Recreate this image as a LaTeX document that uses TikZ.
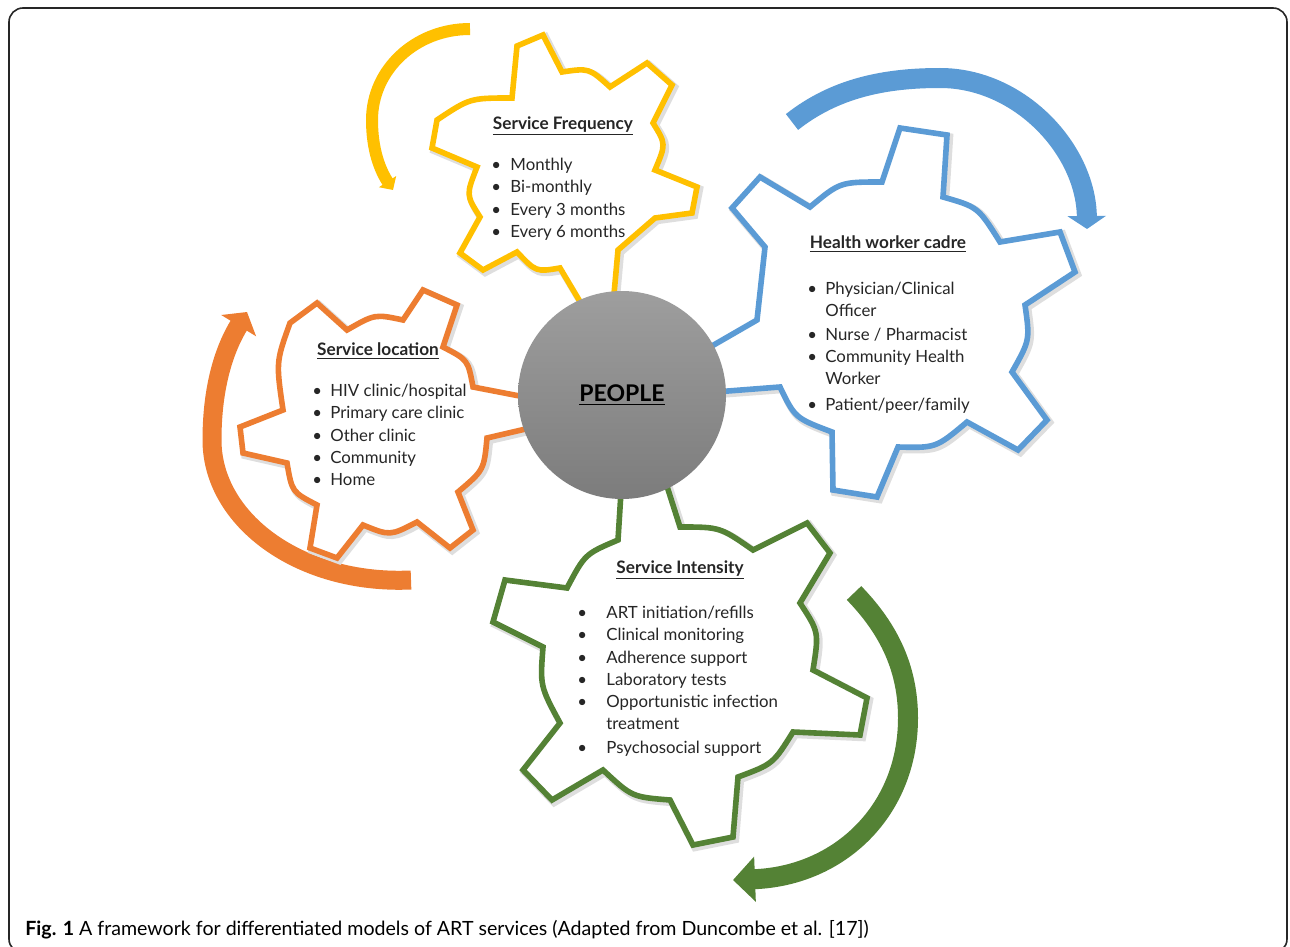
\documentclass[tikz,border=0pt]{standalone}
\usepackage{fontspec}
\setmainfont{Lato}
\newfontfamily\capfont{Lato}
\usetikzlibrary{arrows.meta}
\definecolor{gyellow}{HTML}{FFC000}
\definecolor{gblue}{HTML}{5B9BD5}
\definecolor{gorange}{HTML}{ED7D31}
\definecolor{ggreen}{HTML}{548235}
\definecolor{txt}{HTML}{262626}
\definecolor{ctop}{HTML}{9E9E9E}
\definecolor{cbot}{HTML}{7C7C7C}
\begin{document}
\begin{tikzpicture}[x=0.5pt,y=-0.5pt,
  gear/.style={line width=2.8pt, line join=miter, fill=white,
    preaction={draw=black!13, line width=4pt, transform canvas={xshift=1.1pt,yshift=-1.1pt}}},
  band/.style={line width=#1},
  heading/.style={anchor=base, inner sep=0pt, text=txt, font=\fontsize{8.6}{11}\selectfont\bfseries},
  list/.style={anchor=north west, inner sep=0pt, align=left, text=txt, font=\fontsize{8.4}{11.1}\selectfont},
  people/.style={circle, minimum size=104pt, inner sep=0pt, top color=ctop, bottom color=cbot,
    font=\fontsize{11.5}{13}\selectfont\bfseries, text=black}
]
\useasboundingbox (0,0) rectangle (1290,947);
\begin{scope}
\clip (0,0) rectangle (1290,947);
\draw[line width=0.8pt, draw=black!85, rounded corners=7pt] (9,8) rectangle (1287,953);
\end{scope}

% arrows
\draw[band=6pt, gyellow, -{Triangle[width=10pt,length=5pt]}]
  (470,29) .. controls (415,29) and (372,70) .. (372,120) .. controls (372,150) and (380,170) .. (393,190);
\draw[band=10pt, gblue, -{Triangle[width=19pt,length=6.5pt]}]
  (792,122) .. controls (835,88) and (885,78) .. (940,78) .. controls (1020,78) and (1086,150) .. (1087,229);
\draw[band=9.5pt, gorange, -{Triangle[width=20pt,length=8pt]}]
  (411,580) .. controls (300,585) and (212,520) .. (212,440) .. controls (212,385) and (225,348) .. (247,312);
\draw[band=10pt, ggreen, -{Triangle[width=22pt,length=11pt]}]
  (854,593) .. controls (890,630) and (908,670) .. (908,718) .. controls (908,810) and (840,876) .. (733,880);

% gears
\draw[gear, draw=gyellow] (517,46) -- (543,35) -- (562,72) .. controls (589,68) .. (610,87) -- (647,63) -- (672,85) -- (653,123)
  .. controls (666,144) .. (655,170) -- (697,187) -- (692,213) -- (655,218) -- (618,250) -- (613,305) -- (582,305) -- (560,268)
  .. controls (536,272) .. (517,252) -- (483,270) -- (460,253) -- (480,217) .. controls (466,195) .. (477,167) -- (432,148)
  -- (437,120) .. controls (470,98) .. (512,98) -- cycle;
\draw[gear, draw=gblue] (900,128) -- (947,135) -- (943,197) .. controls (978,207) .. (1000,242) -- (1060,232) -- (1075,272)
  -- (1025,305) .. controls (1030,340) .. (1012,372) -- (1047,420) -- (1018,450) -- (967,422) .. controls (936,448) .. (898,447)
  -- (877,497) -- (833,490) -- (832,432) .. controls (795,418) .. (780,387) -- (715,392) -- (705,350) -- (757,320)
  -- (765,247) -- (732,208) -- (760,177) -- (810,207) .. controls (840,182) .. (882,182) -- cycle;
\draw[gear, draw=gorange] (423,290) -- (457,305) -- (443,347) .. controls (468,360) .. (473,387) -- (530,398) -- (530,428)
  -- (487,438) .. controls (484,470) .. (458,492) -- (473,530) -- (450,548) -- (417,522) .. controls (390,536) .. (363,525)
  -- (337,558) -- (310,548) -- (317,505) .. controls (292,492) .. (287,463) -- (243,453) -- (240,427) -- (283,410)
  .. controls (276,362) .. (290,323) -- (317,303) -- (347,330) .. controls (375,314) .. (403,320) -- cycle;
\draw[gear, draw=ggreen] (621,492) -- (618,540) .. controls (585,554) .. (567,588) -- (505,580) -- (493,622) -- (543,647)
  .. controls (540,686) .. (560,723) -- (523,770) -- (552,800) -- (603,770) .. controls (632,797) .. (670,800) -- (693,845)
  -- (733,837) -- (738,777) .. controls (773,764) .. (793,732) -- (860,735) -- (867,698) -- (813,670)
  .. controls (819,632) .. (800,603) -- (830,553) -- (807,523) -- (753,550) .. controls (720,527) .. (680,527) -- (665,480) -- cycle;

% texts
\node[heading] (hfreq) at (563,129) {\underline{Service Frequency}};
\node[list] (lfreq) at (491,158) {\makebox[9.5pt][l]{\textbullet}Monthly\\
  \makebox[9.5pt][l]{\textbullet}Bi-monthly\\
  \makebox[9.5pt][l]{\textbullet}Every 3 months\\
  \makebox[9.5pt][l]{\textbullet}Every 6 months};

\node[heading] (hcadre) at (888,248) {\underline{Health worker cadre}};
\node[list] (lcadre) at (807,282) {\makebox[9pt][l]{\textbullet}Physician/Clinical\\
  \hspace*{9pt}Officer\\[0.6pt]
  \makebox[9pt][l]{\textbullet}Nurse / Pharmacist\\
  \makebox[9pt][l]{\textbullet}Community Health\\
  \hspace*{9pt}Worker\\[1.6pt]
  \makebox[9pt][l]{\textbullet}Patient/peer/family};

\node[heading] (hloc) at (378,355) {\underline{Service location}};
\node[list] (lloc) at (312,384) {\makebox[9pt][l]{\textbullet}HIV clinic/hospital\\
  \makebox[9pt][l]{\textbullet}Primary care clinic\\
  \makebox[9pt][l]{\textbullet}Other clinic\\
  \makebox[9pt][l]{\textbullet}Community\\
  \makebox[9pt][l]{\textbullet}Home};

\node[heading] (hint) at (680,573) {\underline{Service Intensity}};
\node[list] (lint) at (577,606) {\makebox[14.5pt][l]{\textbullet}ART initiation/refills\\
  \makebox[14.5pt][l]{\textbullet}Clinical monitoring\\
  \makebox[14.5pt][l]{\textbullet}Adherence support\\
  \makebox[14.5pt][l]{\textbullet}Laboratory tests\\
  \makebox[14.5pt][l]{\textbullet}Opportunistic infection\\
  \hspace*{14.5pt}treatment\\[1pt]
  \makebox[14.5pt][l]{\textbullet}Psychosocial support};

\node[people] (people) at (622,395) {\underline{PEOPLE}};

\node[anchor=base west, inner sep=0pt, font=\capfont\fontsize{9.8}{12}\selectfont, text=black] (caption) at (25,935)
  {\textbf{Fig. 1} A framework for differentiated models of ART services (Adapted from Duncombe et al. [17])};
\end{tikzpicture}
\end{document}
